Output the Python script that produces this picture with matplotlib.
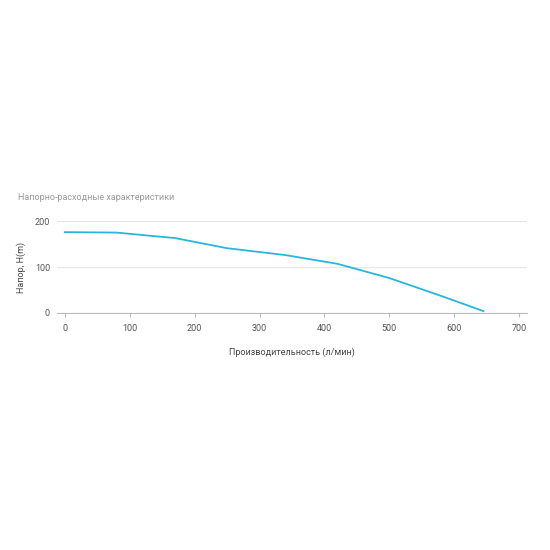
import matplotlib.pyplot as plt

plt.rcParams['font.family'] = ['Roboto', 'DejaVu Sans']

flow = [0, 80, 170, 250, 340, 420, 500, 580, 645]
head = [176, 175, 163, 141, 126, 107, 76, 37, 4]
x_ticks = [0, 100, 200, 300, 400, 500, 600, 700]
y_ticks = [0, 100, 200]

fig = plt.figure(figsize=(5.5, 5.5), dpi=100)
ax = fig.add_axes([0.1036, 0.431, 0.8545, 0.167])
ax.plot(flow, head, color='#29b6dc', lw=1.3, clip_on=False)
ax.set_xlim(-12, 712)
ax.set_ylim(0, 200)
ax.set_xticks(x_ticks)
ax.set_yticks(y_ticks)
ax.grid(axis='y', color='#e6e6e6', lw=0.8)
ax.set_axisbelow(True)
for s in ['top', 'right', 'left']:
    ax.spines[s].set_visible(False)
ax.spines['bottom'].set_color('#bbbbbb')
ax.tick_params(axis='both', labelsize=6.5, colors='#555555', length=0, pad=5)
ax.tick_params(axis='x', length=3, color='#bbbbbb')
ax.set_xlabel('Производительность (л/мин)', fontsize=6.5, color='#444444', labelpad=10)
ax.set_ylabel('Напор, H(m)', fontsize=6.5, color='#444444', labelpad=6)
fig.text(18 / 550, 1 - 197 / 550, 'Напорно-расходные характеристики', fontsize=6.5,
         color='#999999', va='center')
fig.savefig('out.png')
